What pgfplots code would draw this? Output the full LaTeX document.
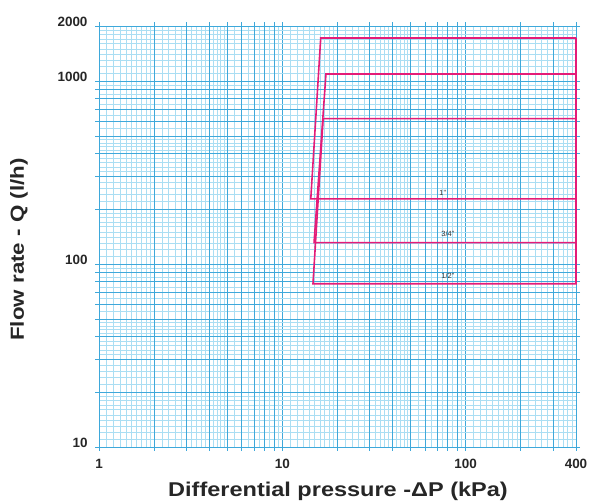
\documentclass[border=0pt]{standalone}
\usepackage{fontspec}
\setmainfont{Liberation Sans}
\usepackage{pgfplots}
\pgfplotsset{compat=1.18}

\definecolor{gridmaj}{RGB}{62,168,218}
\definecolor{gridmin}{RGB}{170,222,243}
\definecolor{curve}{RGB}{228,28,120}

\begin{document}
\begin{tikzpicture}
\begin{loglogaxis}[
    scale only axis,
    width=477bp, height=421bp,
    xmin=1, xmax=400, ymin=10, ymax=2000,
    xtick={1,10,100,400}, xticklabels={1,10,100,400},
    ytick={10,100,1000,2000}, yticklabels={10,100,1000,2000},
    extra x ticks={2,3,4,5,6,7,8,9,20,30,40,50,60,70,80,90,200,300},
    extra y ticks={20,30,40,50,60,70,80,90,200,300,400,500,600,700,800,900},
    extra tick style={grid=major, xticklabels={}, yticklabels={}},
    minor xtick={1.1,1.2,1.3,1.4,1.5,1.6,1.7,1.8,1.9,2.2,2.4,2.6,2.8,3.2,3.4,3.6,3.8,4.2,4.4,4.6,4.8,5.5,6.5,7.5,8.5,9.5,
                 11,12,13,14,15,16,17,18,19,22,24,26,28,32,34,36,38,42,44,46,48,55,65,75,85,95,
                 110,120,130,140,150,160,170,180,190,220,240,260,280,320,340,360,380},
    minor ytick={11,12,13,14,15,16,17,18,19,22,24,26,28,32,34,36,38,42,44,46,48,55,65,75,85,95,
                 110,120,130,140,150,160,170,180,190,220,240,260,280,320,340,360,380,420,440,460,480,550,650,750,850,950,
                 1100,1200,1300,1400,1500,1600,1700,1800,1900},
    grid=both,
    major grid style={gridmaj, line width=0.8pt},
    minor grid style={gridmin, line width=0.45pt},
    axis line style={gridmaj, line width=0.8pt},
    tick style={gridmaj, line width=0.8pt},
    tick align=outside,
    major tick length=4bp,
    minor tick length=0pt,
    tick label style={font=\bfseries\fontsize{13.5}{15}\selectfont, text=black!85},
    /pgf/number format/assume math mode=true,
    xticklabel style={yshift=-5bp},
    yticklabel style={yshift=4bp, xshift=-4bp},
    clip=false,
]
% 1" valve
\addplot[curve, line width=1.6pt, line join=miter] coordinates {
    (400,1720) (16.2,1720) (14.3,227) (400,227) (400,1720)
};
% 3/4" valve
\addplot[curve, line width=1.6pt, line join=miter] coordinates {
    (400,1093) (17.3,1093) (14.9,131) (400,131) (400,1093)
};
% 1/2" valve
\addplot[curve, line width=1.6pt, line join=miter] coordinates {
    (400,623) (16.7,623) (14.7,78) (400,78) (400,623)
};
\node[font=\fontsize{7.5}{8}\selectfont, text=black!80] at (axis cs:75,246) {1"};
\node[font=\fontsize{7.5}{8}\selectfont, text=black!80] at (axis cs:80,146) {3/4"};
\node[font=\fontsize{7.5}{8}\selectfont, text=black!80] at (axis cs:80,86.5) {1/2"};
\end{loglogaxis}
% axis titles
\node[font=\bfseries\fontsize{20}{22}\selectfont, text=black!85]
    at ([shift={(0.5bp,-44bp)}]current axis.south)
    {\scalebox{1.18}[1]{Differential pressure -ΔP (kPa)}};
\node[font=\bfseries\fontsize{19}{21}\selectfont, text=black!85, rotate=90]
    at ([shift={(-80bp,-13bp)}]current axis.west)
    {\scalebox{1.18}[1]{Flow rate - Q (l/h)}};
\pgfresetboundingbox
\path[use as bounding box] ([shift={(-99bp,-55.2bp)}]current axis.south west)
    rectangle ([shift={(19bp,26bp)}]current axis.north east);
\end{tikzpicture}
\end{document}
